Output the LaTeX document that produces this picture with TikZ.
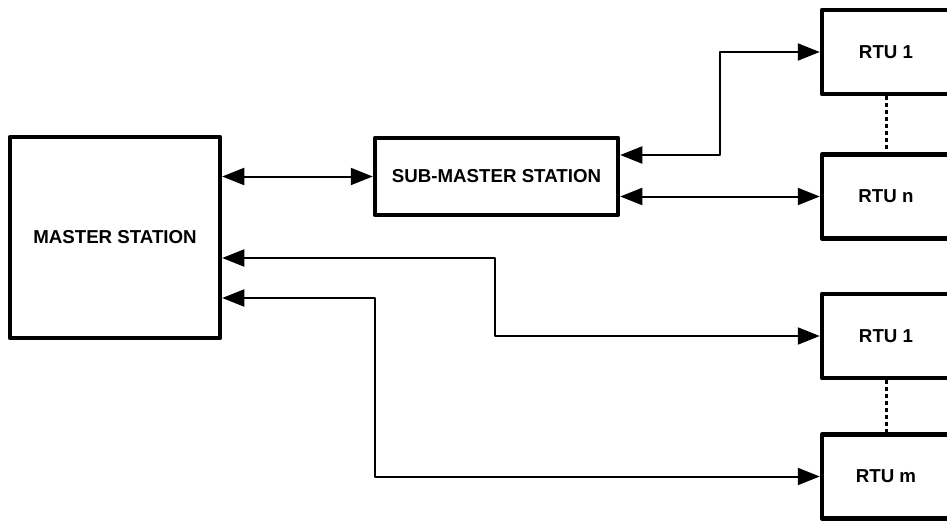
\documentclass[tikz,border=0pt]{standalone}
\usepackage{fontspec}
\setmainfont{Liberation Sans}
\usetikzlibrary{arrows.meta}
\begin{document}
\begin{tikzpicture}[x=1pt, y=-1pt, line cap=round, line join=round, font=\fontsize{18.7}{20}\selectfont\bfseries, >={Triangle[length=22pt,width=17pt]}]
			\tikzset{station/.style={draw, line width=4.5pt, inner sep=0pt, minimum width=#1, minimum height=84pt}}
			\tikzset{link/.style={<->, line width=2pt}}
			\clip (0,0) rectangle (947,523);
			\node[station=210pt, minimum height=201pt] (master) at (115,237.5) {MASTER STATION};
			\node[station=243pt, minimum height=77pt] (sub) at (496.5,176.5) {SUB-MASTER STATION};
			\node[station=128pt] (rtuA) at (886,52) {RTU 1};
			\node[station=128pt] (rtuB) at (886,196.5) {RTU n};
			\node[station=128pt] (rtuC) at (886,336) {RTU 1};
			\node[station=128pt] (rtuD) at (886,476.5) {RTU m};
			\draw[link] (master.east |- sub.west) -- (sub.west);
			\draw[link] (sub.east |- 0,155) -- (720,155) |- (rtuA.west);
			\draw[link] (sub.east |- rtuB.west) -- (rtuB.west);
			\draw[link] (master.east |- 0,258) -- (495,258) |- (rtuC.west);
			\draw[link] (master.east |- 0,298) -- (375,298) |- (rtuD.west);
			\draw[line width=3pt, line cap=butt, dash pattern=on 4pt off 3pt] (rtuA.south) -- (rtuB.north);
			\draw[line width=3pt, line cap=butt, dash pattern=on 4pt off 3pt] (rtuC.south) -- (rtuD.north);
		\end{tikzpicture}
\end{document}
